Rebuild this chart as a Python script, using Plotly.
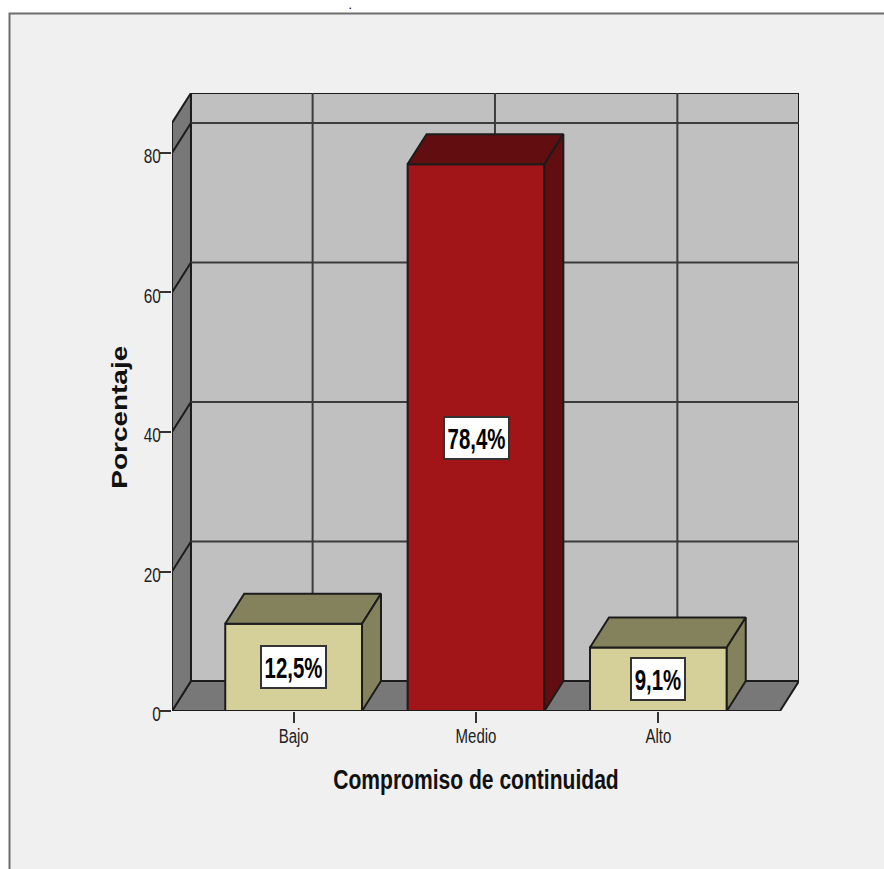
import json
import plotly.graph_objects as go

# Survey result: commitment level shares
categories = ["Bajo", "Medio", "Alto"]
percentages = [12.5, 78.4, 9.1]
front_colors = ["#D5D09A", "#A11518", "#D5D09A"]
shade_colors = ["#84825C", "#620D0F", "#84825C"]
y_ticks = [0, 20, 40, 60, 80]
x_title = "Compromiso de continuidad"
y_title = "Porcentaje"

W, H = 884, 869

# Oblique projection used for the pseudo-3D chamber and bars
BAR_WIDTH = 0.75
DEPTH_X = 0.104
DEPTH_Y = 4.3
FLOOR_L, FLOOR_R = -0.667, 2.667
CEILING = 84.3
SANS = "Liberation Sans, Arial, sans-serif"
EDGE = "#1c1c1c"
GRID = "#3c3c3c"


def polygon(xs, ys, fill, line=EDGE, width=2):
    path = "M " + " L ".join(f"{x},{y}" for x, y in zip(xs, ys)) + " Z"
    return dict(type="path", path=path, xref="x", yref="y", fillcolor=fill,
                line=dict(color=line, width=width), layer="below")


def segment(x0, y0, x1, y1, color=GRID, width=2):
    return dict(type="line", x0=x0, y0=y0, x1=x1, y1=y1, xref="x", yref="y",
                line=dict(color=color, width=width), layer="below")


shapes = [
    # Window panel behind the chart
    dict(type="rect", xref="paper", yref="paper", x0=9.5 / W, x1=1.01,
         y0=-0.01, y1=1 - 13.5 / H, fillcolor="#F0F0F0",
         line=dict(color="#6e6e6e", width=2), layer="below"),
    # Back wall, floor and left wall
    polygon([FLOOR_L + DEPTH_X, FLOOR_R + DEPTH_X, FLOOR_R + DEPTH_X, FLOOR_L + DEPTH_X],
            [DEPTH_Y, DEPTH_Y, CEILING + DEPTH_Y, CEILING + DEPTH_Y], "#C0C0C0"),
    polygon([FLOOR_L, FLOOR_R, FLOOR_R + DEPTH_X, FLOOR_L + DEPTH_X],
            [0, 0, DEPTH_Y, DEPTH_Y], "#787878"),
    polygon([FLOOR_L, FLOOR_L + DEPTH_X, FLOOR_L + DEPTH_X, FLOOR_L],
            [0, DEPTH_Y, CEILING + DEPTH_Y, CEILING], "#787878"),
]
# Grid lines on the back wall, with their continuation over the left wall
for tick in y_ticks[1:]:
    shapes.append(segment(FLOOR_L + DEPTH_X, tick + DEPTH_Y, FLOOR_R + DEPTH_X, tick + DEPTH_Y))
    shapes.append(segment(FLOOR_L, tick, FLOOR_L + DEPTH_X, tick + DEPTH_Y, EDGE))
for i in range(len(categories)):
    shapes.append(segment(i + DEPTH_X, DEPTH_Y, i + DEPTH_X, CEILING + DEPTH_Y))

fig = go.Figure()

# Front faces of the bars
fig.add_trace(go.Bar(
    x=list(range(len(categories))), y=percentages, width=BAR_WIDTH,
    marker=dict(color=front_colors, line=dict(color=EDGE, width=2)),
    hoverinfo="skip", showlegend=False,
))

# Top and right faces, projected from each bar's value
half = BAR_WIDTH / 2
for i, value in enumerate(percentages):
    left, right = i - half, i + half
    fig.add_trace(go.Scatter(
        x=[left, right, right + DEPTH_X, left + DEPTH_X, left],
        y=[value, value, value + DEPTH_Y, value + DEPTH_Y, value],
        mode="lines", fill="toself", fillcolor=shade_colors[i],
        line=dict(color=EDGE, width=2), cliponaxis=False,
        hoverinfo="skip", showlegend=False,
    ))
    fig.add_trace(go.Scatter(
        x=[right, right + DEPTH_X, right + DEPTH_X, right, right],
        y=[0, DEPTH_Y, value + DEPTH_Y, value, 0],
        mode="lines", fill="toself", fillcolor=shade_colors[i],
        line=dict(color=EDGE, width=2), cliponaxis=False,
        hoverinfo="skip", showlegend=False,
    ))

# Value labels centred on the front faces
annotations = []
for i, value in enumerate(percentages):
    label = f"{value:.1f}%".replace(".", ",")
    annotations.append(dict(
        x=i, y=value / 2, xref="x", yref="y", showarrow=False, text=label,
        width=11 * len(label) + 8, height=40, borderpad=0,
        font=dict(family=SANS, size=30, color="#000000", weight=700),
        bgcolor="#FFFFFF", bordercolor="#333333", borderwidth=2,
    ))

# Axis titles and the stray mark above the panel
annotations.append(dict(
    x=475.5 / W, y=1 - 780 / H, xref="paper", yref="paper", showarrow=False,
    xanchor="center", yanchor="middle",
    text=x_title, font=dict(family=SANS, size=27, color="#111111", weight=700),
))
annotations.append(dict(
    x=119.5 / W, y=1 - 417 / H, xref="paper", yref="paper", showarrow=False,
    xanchor="center", yanchor="middle",
    text=y_title, textangle=-90,
    font=dict(family=SANS, size=22, color="#111111", weight=700),
))
annotations.append(dict(
    x=350 / W, y=1, xref="paper", yref="paper", xanchor="center", yanchor="top",
    showarrow=False, text=".", borderpad=0,
    font=dict(family=SANS, size=9, color="#000000", weight=700),
))

fig.update_layout(
    width=W, height=H, autosize=False,
    margin=dict(l=0, r=0, t=0, b=0),
    paper_bgcolor="#FFFFFF", plot_bgcolor="rgba(0,0,0,0)",
    shapes=shapes, annotations=annotations, showlegend=False,
    xaxis=dict(
        domain=[172 / W, 799 / W], range=[FLOOR_L, FLOOR_R + DEPTH_X],
        automargin=False,
        tickmode="array", tickvals=list(range(len(categories))), ticktext=categories,
        ticks="outside", ticklen=11, tickwidth=2, tickcolor="#333333",
        ticklabelstandoff=-4,
        tickfont=dict(family=SANS, size=20, color="#222222"),
        showgrid=False, zeroline=False, showline=False,
    ),
    yaxis=dict(
        domain=[1 - 711 / H, 1 - 93 / H], range=[0, 88.6],
        automargin=False,
        tickmode="array", tickvals=y_ticks,
        ticks="outside", ticklen=11, tickwidth=2, tickcolor="#333333",
        ticklabelstandoff=-5,
        tickfont=dict(family=SANS, size=20.5, color="#222222"),
        showgrid=False, zeroline=False, showline=False,
    ),
)

# The chart's lettering is set in a condensed cut, so glyphs are squeezed to width
condense_script = """
var xTitle = XTITLE, yTitle = YTITLE;
function fit(el, factor) {
  var natural = el.getComputedTextLength();
  el.setAttribute('lengthAdjust', 'spacingAndGlyphs');
  el.setAttribute('textLength', natural * factor);
  el.removeAttribute('clip-path');
  el.style.clipPath = 'none';
}
document.querySelectorAll('.xtick text, .ytick text').forEach(function (el) { fit(el, 0.75); });
document.querySelectorAll('.ytick text').forEach(function (el) { el.setAttribute('dy', 3); });
document.querySelectorAll('.annotation-text').forEach(function (el) {
  var t = el.textContent;
  if (t.indexOf('%') >= 0) { fit(el, 0.68); }
  else if (t === xTitle) { fit(el, 0.78); }
  else if (t === yTitle) { fit(el, 1.27); }
});
""".replace("XTITLE", json.dumps(x_title)).replace("YTITLE", json.dumps(y_title))

fig.write_html("out.html", post_script=condense_script)
